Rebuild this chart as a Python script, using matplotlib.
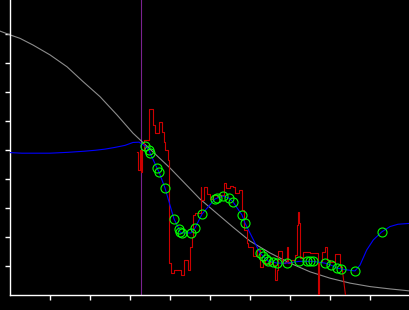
import matplotlib
matplotlib.use("Agg")
import matplotlib.pyplot as plt

# grey smooth curve
grey_x = [-0.25, 0.0, 0.25, 0.575, 1.0, 1.425, 1.825, 2.25, 2.675, 3.075, 3.5, 4.0,
          4.75, 5.575, 6.0, 6.5, 7.0, 7.5, 8.0, 8.5, 9.0, 9.5, 10.0]
grey_y = [9.10, 8.97, 8.85, 8.62, 8.28, 7.87, 7.36, 6.84, 6.21, 5.58, 5.03, 4.38,
          3.31, 2.34, 1.86, 1.45, 1.10, 0.80, 0.58, 0.41, 0.29, 0.21, 0.14]

# vertical marker line
vline_x = 3.275

# observations (green circles)
obs_x = [3.375, 3.475, 3.5, 3.675, 3.725, 3.875, 4.1, 4.225, 4.25, 4.3, 4.525, 4.625,
         4.8, 5.125, 5.175, 5.325, 5.475, 5.575, 5.8, 5.875, 6.25, 6.325, 6.4, 6.45,
         6.575, 6.675, 6.925, 7.225, 7.425, 7.5, 7.575, 7.875, 8.025, 8.175, 8.275,
         8.625, 9.2875]
obs_y = [5.14, 5.00, 4.90, 4.38, 4.24, 3.69, 2.62, 2.28, 2.17, 2.14, 2.14, 2.31,
         2.79, 3.31, 3.34, 3.41, 3.34, 3.21, 2.76, 2.48, 1.45, 1.34, 1.24, 1.17,
         1.14, 1.10, 1.10, 1.16, 1.16, 1.16, 1.16, 1.10, 1.03, 0.93, 0.90,
         0.83, 2.17]

# blue curve: left flat part, then through observations, then tail
blue_left_x = [0.0, 0.3, 1.0, 1.45, 1.875, 2.125, 2.375, 2.625, 2.875, 3.075, 3.225]
blue_left_y = [4.91, 4.89, 4.89, 4.92, 4.96, 4.99, 5.03, 5.09, 5.16, 5.26, 5.27]
blue_mid_x = [8.45, 8.625, 8.75, 8.917, 9.083, 9.2875, 9.5, 9.7, 10.0]
blue_mid_y = [0.86, 0.83, 1.03, 1.55, 1.90, 2.17, 2.36, 2.44, 2.47]

# red noisy step series
red_x = [3.175, 3.2, 3.2375, 3.2625, 3.3, 3.35, 3.4625, 3.58, 3.625, 3.725, 3.79, 3.84,
         3.875, 3.94, 3.975, 4.025, 4.11, 4.27, 4.36, 4.46, 4.5, 4.54, 4.575, 4.625,
         4.77, 4.775, 4.85, 4.925, 4.99, 5.075, 5.175, 5.25, 5.35, 5.4, 5.5, 5.58,
         5.625, 5.725, 5.79, 5.84, 5.92, 5.95, 6.08, 6.17, 6.25, 6.325, 6.375, 6.5,
         6.575, 6.625, 6.675, 6.71, 6.79, 6.875, 6.92, 6.96, 7.025, 7.125, 7.17, 7.19,
         7.225, 7.26, 7.325, 7.5, 7.67, 7.69, 7.73, 7.79, 7.875, 7.92, 8.0, 8.125,
         8.225, 8.26, 8.3]
red_y = [4.93, 4.31, 5.00, 4.24, 5.00, 5.34, 6.41, 5.86, 5.59, 5.97, 5.62, 5.28,
         5.00, 4.66, 1.10, 0.76, 0.86, 0.69, 1.21, 0.86, 1.66, 2.00, 2.76, 2.83,
         3.72, 3.28, 3.72, 3.48, 3.31, 3.45, 3.38, 3.45, 3.86, 3.69, 3.76, 3.72,
         3.52, 3.62, 2.93, 2.24, 1.79, 1.66, 1.34, 1.55, 0.97, 1.21, 1.07, 1.14,
         1.03, 0.52, 0.86, 1.52, 1.10, 1.14, 1.66, 1.10, 1.21, 1.38, 2.41, 2.86,
         2.48, 1.28, 1.48, 1.45, 1.45, -0.10, 1.14, 1.48, 1.66, 1.21, 1.14, 1.41,
         1.41, 0.97, 0.97]
red_tail_x = [8.3, 8.4]
red_tail_y = [0.97, -0.15]

fig = plt.figure(figsize=(4.1, 3.1), dpi=100, facecolor="black")
ax = fig.add_axes([10 / 410, 15 / 310, 400 / 410, 295 / 310])
ax.set_facecolor("black")
ax.set_xlim(0, 10)
ax.set_ylim(0, 295 / 29)

lw = 0.8
ax.plot(grey_x, grey_y, color="#8c8c8c", lw=lw, clip_on=False, zorder=2)
ax.axvline(vline_x, color="#7a2290", lw=lw, zorder=1)
ax.plot(red_x, red_y, color="#cc0000", lw=lw, drawstyle="steps-post", zorder=3)
ax.plot(red_tail_x, red_tail_y, color="#cc0000", lw=lw, zorder=3)
blue_x = blue_left_x + obs_x[:-2] + blue_mid_x
blue_y = blue_left_y + obs_y[:-2] + blue_mid_y
ax.plot(blue_x, blue_y, color="#0000ff", lw=lw, zorder=4)
ax.plot(obs_x, obs_y, linestyle="none", marker="o", markersize=6.5,
        markerfacecolor="none", markeredgecolor="#00ff00", markeredgewidth=0.8, zorder=5)

for s in ["top", "right"]:
    ax.spines[s].set_visible(False)
for s in ["left", "bottom"]:
    ax.spines[s].set_color("white")
    ax.spines[s].set_linewidth(1.0)
ax.set_xticks(range(1, 10))
ax.set_yticks(range(1, 10))
ax.tick_params(colors="white", direction="out", length=3.5, width=1.0,
               labelbottom=False, labelleft=False)

fig.savefig("out.png", dpi=100, facecolor="black")
